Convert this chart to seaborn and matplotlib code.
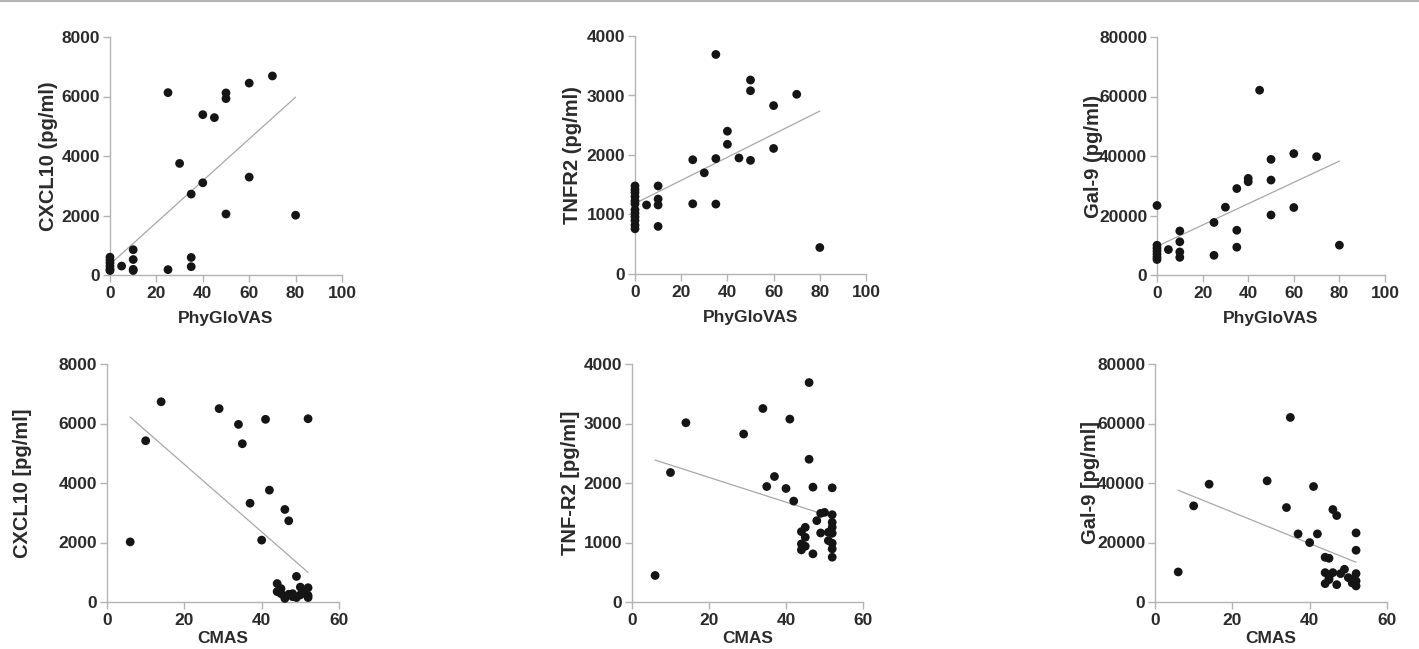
import numpy as np
import pandas as pd
import seaborn as sns
import matplotlib
matplotlib.use("Agg")
import matplotlib.pyplot as plt
from matplotlib.lines import Line2D

# ---------------- data ----------------
phy1_x = [0, 0, 0, 0, 0, 0, 5, 10, 10, 10, 10, 25, 25, 30, 35, 35, 35, 40, 40, 45,
          50, 50, 50, 60, 60, 70, 80]
cxcl10_top = [600, 500, 400, 300, 200, 150, 300, 850, 520, 190, 150, 6130, 180, 3750,
              2720, 590, 280, 5390, 3100, 5290, 6120, 5930, 2050, 6450, 3290, 6690, 2010]

phy2_x = [0, 0, 0, 0, 0, 0, 0, 0, 0, 0, 0, 0, 5, 10, 10, 10, 10, 25, 25, 30, 35, 35, 35,
          40, 40, 45, 50, 50, 50, 60, 60, 70, 80]
tnfr2_top = [1480, 1420, 1370, 1300, 1230, 1180, 1080, 1020, 960, 900, 820, 760, 1160,
             1480, 1260, 1160, 800, 1920, 1180, 1700, 3690, 1940, 1175, 2400, 2180, 1950,
             3260, 3080, 1910, 2830, 2110, 3020, 445]

phy3_x = [0, 0, 0, 0, 0, 0, 0, 5, 10, 10, 10, 10, 25, 25, 30, 35, 35, 35, 40, 40, 45,
          50, 50, 50, 60, 60, 70, 80]
gal9_top = [23360, 10000, 9000, 8000, 7000, 6000, 5200, 8550, 14800, 11170, 7750, 5930,
            17660, 6610, 22790, 29060, 15040, 9340, 32480, 31340, 62110, 38860, 31910,
            20170, 40800, 22680, 39770, 10030]

cmas1_x = [6, 10, 14, 29, 34, 35, 37, 41, 42, 40, 46, 47, 52, 49, 44, 45, 45, 46, 47, 48,
           49, 50, 51, 52, 52, 52, 44, 46, 48, 50]
cxcl10_bot = [2020, 5420, 6730, 6500, 5970, 5320, 3320, 6140, 3760, 2080, 3110, 2730, 6160,
              860, 620, 450, 280, 170, 260, 280, 150, 500, 340, 480, 220, 150, 350, 120,
              180, 240]

cmas2_x = [6, 10, 14, 29, 34, 35, 37, 40, 41, 42, 46, 46, 47, 52, 44, 45, 45, 44, 45, 44,
           47, 48, 49, 50, 49, 51, 52, 52, 52, 52, 52, 52, 52, 51]
tnfr2_bot = [446, 2176, 3013, 2823, 3252, 1941, 2109, 1908, 3074, 1696, 3688, 2399, 1930,
             1919, 1183, 1255, 1088, 976, 937, 876, 809, 1367, 1490, 1506, 1160, 1032, 1467,
             1339, 1255, 1155, 988, 893, 753, 1172]

cmas3_x = [6, 10, 14, 29, 34, 35, 37, 40, 41, 42, 46, 47, 44, 45, 52, 52, 44, 44, 45, 46,
           47, 48, 49, 50, 51, 52, 52, 52, 51, 45]
gal9_bot = [10100, 32310, 39600, 40730, 31750, 62040, 22890, 19970, 38820, 22890, 31080,
            29060, 15030, 14700, 23220, 17390, 9870, 6170, 8190, 9870, 5830, 9540, 11000,
            8190, 7520, 9540, 7070, 5390, 6400, 7520]

x_labels = ["PhyGloVAS", "PhyGloVAS", "PhyGloVAS", "CMAS", "CMAS", "CMAS"]
y_labels = ["CXCL10 (pg/ml)", "TNFR2 (pg/ml)", "Gal-9 (pg/ml)",
            "CXCL10 [pg/ml]", "TNF-R2 [pg/ml]", "Gal-9 [pg/ml]"]
x_maxes = [100, 100, 100, 60, 60, 60]
x_steps = [20, 20, 20, 20, 20, 20]
y_maxes = [8000, 4000, 80000, 8000, 4000, 80000]
y_steps = [2000, 1000, 20000, 2000, 1000, 20000]

panels = [(phy1_x, cxcl10_top), (phy2_x, tnfr2_top), (phy3_x, gal9_top),
          (cmas1_x, cxcl10_bot), (cmas2_x, tnfr2_bot), (cmas3_x, gal9_bot)]

# ---------------- style ----------------
sns.set_theme(style="ticks")
plt.rcParams["font.family"] = ["Liberation Sans", "DejaVu Sans"]
plt.rcParams["font.weight"] = "bold"

W, H = 1419, 649
fig = plt.figure(figsize=(W / 100, H / 100), dpi=100)

# axes rectangles in pixels: left, top, width, height
rects_px = [(110, 37, 232, 238), (635, 36, 231, 238), (1157, 37, 228, 238),
            (107, 364, 232, 238), (632, 364, 231, 238), (1155, 364, 232, 238)]
ylabel_off_px = [52, 53, 54, 75, 52, 55]
xlabel_off_px = [36, 36, 36, 29, 29, 29]

spine_col = "#b3b3b3"
text_col = "#2b2b2b"

for i, ((xs, ys), (l, t, w, h)) in enumerate(zip(panels, rects_px)):
    ax = fig.add_axes([l / W, 1 - (t + h) / H, w / W, h / H])
    df = pd.DataFrame({"x": xs, "y": ys})
    sns.regplot(data=df, x="x", y="y", ax=ax, ci=None,
                scatter_kws=dict(s=40, color="#151515", edgecolors="none",
                                 clip_on=False, zorder=3, alpha=1),
                line_kws=dict(color="#a8a8a8", lw=0.9, zorder=2))
    ax.set_xlim(0, x_maxes[i])
    ax.set_ylim(0, y_maxes[i])
    ax.set_xticks(np.arange(0, x_maxes[i] + 1, x_steps[i]))
    ax.set_yticks(np.arange(0, y_maxes[i] + 1, y_steps[i]))
    ax.set_yticklabels([str(int(v)) for v in ax.get_yticks()])
    for s in ["top", "right"]:
        ax.spines[s].set_visible(False)
    for s in ["left", "bottom"]:
        ax.spines[s].set_color(spine_col)
        ax.spines[s].set_linewidth(1.0)
    ax.tick_params(axis="both", colors=spine_col, length=5, width=1.0,
                   labelcolor=text_col, labelsize=12.5)
    ax.tick_params(axis="y", pad=2)
    ax.tick_params(axis="x", pad=3)
    for lab in ax.get_xticklabels() + ax.get_yticklabels():
        lab.set_fontweight("bold")
    ax.set_xlabel(x_labels[i], fontsize=12.5, fontweight="bold", color=text_col)
    ax.set_ylabel(y_labels[i], fontsize=14.5, fontweight="bold", color=text_col)
    ax.xaxis.set_label_coords(0.5, -xlabel_off_px[i] / h)
    ax.yaxis.set_label_coords(-ylabel_off_px[i] / w, 0.5)

fig.add_artist(Line2D([0, 1], [1 - 1 / H, 1 - 1 / H], transform=fig.transFigure,
                      color="#b5b5b5", lw=1.5))

fig.savefig("out.png", dpi=100)
